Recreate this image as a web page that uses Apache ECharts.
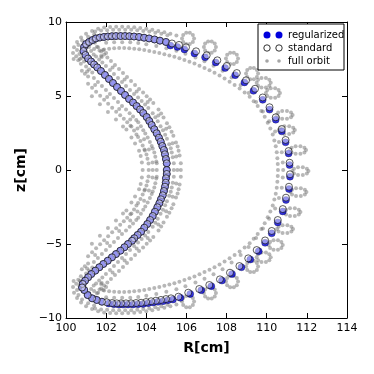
<!DOCTYPE html>
<html>
<head>
<meta charset="utf-8">
<script src="https://cdn.jsdelivr.net/npm/echarts@6/dist/echarts.min.js"></script>
<style>
html, body { margin: 0; padding: 0; background: #fff; }
#chart { width: 374px; height: 374px; }
</style>
</head>
<body>
<div id="chart"></div>
<script>
// axis ticks
var rTicks = [100, 102, 104, 106, 108, 110, 112, 114];
var zTicks = [-10, -5, 0, 5, 10];

// guiding centre, "standard" scheme: outer leg (top -> right -> bottom)
var stdOuter = [
	[100.90, 8.31], [101.00, 8.51], [101.15, 8.65], [101.32, 8.78], [101.49, 8.89], [101.69, 8.95], [101.89, 8.99], [102.09, 9.02],
	[102.29, 9.04], [102.49, 9.05], [102.72, 9.05], [102.94, 9.05], [103.16, 9.04], [103.39, 9.02], [103.64, 8.99], [103.89, 8.94],
	[104.14, 8.89], [104.41, 8.82], [104.68, 8.74], [104.98, 8.65], [105.28, 8.55], [105.63, 8.45], [105.98, 8.29], [106.48, 8.02],
	[107.01, 7.75], [107.54, 7.41], [108.01, 7.03], [108.51, 6.55], [108.97, 6.06], [109.42, 5.49], [109.80, 4.90], [110.14, 4.24],
	[110.45, 3.56], [110.75, 2.77], [110.94, 2.03], [111.09, 1.28], [111.14, 0.49], [111.16, -0.29], [111.11, -1.13], [110.96, -1.87],
	[110.80, -2.64], [110.55, -3.38], [110.25, -4.12], [109.92, -4.76], [109.50, -5.41], [109.08, -5.97], [108.64, -6.49], [108.17, -6.94],
	[107.67, -7.39], [107.14, -7.77], [106.64, -8.04], [106.09, -8.29], [105.60, -8.56], [105.23, -8.67], [104.98, -8.72], [104.73, -8.78],
	[104.48, -8.83], [104.24, -8.87], [103.99, -8.92], [103.74, -8.97], [103.49, -8.99], [103.24, -9.01], [102.99, -9.01], [102.74, -9.01],
	[102.53, -9.01], [102.29, -8.99], [102.03, -8.94], [101.79, -8.90], [101.53, -8.78], [101.30, -8.67], [101.08, -8.45], [100.91, -8.11]
];
// inner leg (top tip -> bottom tip)
var stdInner = [
	[100.87, 8.04], [100.97, 7.77], [101.10, 7.53], [101.25, 7.33], [101.40, 7.13], [101.56, 6.93], [101.74, 6.69], [101.94, 6.42],
	[102.14, 6.15], [102.34, 5.88], [102.54, 5.61], [102.74, 5.34], [102.94, 5.07], [103.14, 4.80], [103.34, 4.56], [103.52, 4.32],
	[103.69, 4.09], [103.85, 3.85], [104.02, 3.58], [104.15, 3.31], [104.27, 3.04], [104.40, 2.75], [104.52, 2.48], [104.63, 2.18],
	[104.72, 1.91], [104.80, 1.62], [104.88, 1.35], [104.93, 1.06], [104.98, 0.74], [105.02, 0.45], [105.02, 0.00], [105.02, -0.27],
	[104.98, -0.56], [104.97, -0.86], [104.93, -1.13], [104.88, -1.42], [104.82, -1.71], [104.73, -1.98], [104.65, -2.25], [104.55, -2.52],
	[104.43, -2.82], [104.32, -3.11], [104.19, -3.38], [104.05, -3.65], [103.90, -3.90], [103.74, -4.17], [103.57, -4.39], [103.40, -4.61],
	[103.29, -4.78], [103.09, -5.00], [102.91, -5.22], [102.71, -5.45], [102.49, -5.68], [102.29, -5.90], [102.08, -6.13], [101.86, -6.35],
	[101.66, -6.57], [101.46, -6.80], [101.26, -7.03], [101.10, -7.25], [100.95, -7.48], [100.83, -7.70], [100.80, -7.94]
];

// guiding centre, "regularized" scheme (shifted a little on the outer leg)
var regOuter = [
	[100.90, 8.31], [101.00, 8.51], [101.15, 8.65], [101.32, 8.78], [101.49, 8.89], [101.69, 8.95], [101.89, 8.99], [102.09, 9.02],
	[102.29, 9.04], [102.49, 9.05], [102.72, 9.05], [102.94, 9.05], [103.16, 9.04], [103.39, 9.02], [103.64, 8.99], [103.89, 8.94],
	[104.14, 8.89], [104.41, 8.82], [104.68, 8.74], [104.98, 8.65], [105.20, 8.41], [105.55, 8.31], [105.90, 8.15], [106.40, 7.88],
	[106.93, 7.61], [107.46, 7.27], [107.93, 6.89], [108.43, 6.41], [108.89, 5.92], [109.34, 5.35], [109.80, 4.74], [110.14, 4.08],
	[110.45, 3.40], [110.75, 2.61], [110.94, 1.87], [111.09, 1.12], [111.14, 0.33], [111.16, -0.45], [111.11, -1.29], [110.96, -2.03],
	[110.80, -2.80], [110.55, -3.54], [110.25, -4.28], [109.92, -4.92], [109.60, -5.49], [109.18, -6.05], [108.74, -6.57], [108.27, -7.02],
	[107.77, -7.47], [107.24, -7.85], [106.74, -8.12], [106.19, -8.37], [105.70, -8.64], [105.33, -8.75], [105.08, -8.80], [104.83, -8.86],
	[104.58, -8.91], [104.34, -8.95], [104.09, -9.00], [103.84, -9.05], [103.59, -9.07], [103.34, -9.09], [103.09, -9.09], [102.84, -9.09],
	[102.63, -9.09], [102.39, -9.07], [102.13, -9.02], [101.79, -8.90], [101.53, -8.78], [101.30, -8.67], [101.08, -8.45], [100.91, -8.11]
];
// on the inner leg both schemes sit on the same points
var regInner = stdInner;

// full orbit: outer rim of the banana tips
var orbitEdgeTop = [
	[100.38, 7.5], [100.35, 7.9], [100.40, 8.3], [100.55, 8.65], [100.75, 8.95], [101.0, 9.2], [101.3, 9.4], [101.6, 9.55],
	[101.9, 9.62], [102.2, 9.66], [102.5, 9.68], [102.8, 9.68], [103.1, 9.67], [103.4, 9.64], [103.7, 9.6], [104.0, 9.55],
	[104.3, 9.48], [104.6, 9.4], [104.9, 9.31], [105.2, 9.2], [105.5, 9.08],
	[101.45, 9.35], [101.75, 9.42], [102.05, 9.45], [102.35, 9.47], [102.65, 9.48], [102.95, 9.48], [103.25, 9.47], [103.55, 9.44],
	[103.85, 9.4], [104.15, 9.35], [104.45, 9.28], [104.75, 9.2], [105.05, 9.1]
];
var orbitEdgeBottom = [
	[100.38, -7.5], [100.35, -7.9], [100.40, -8.3], [100.55, -8.65], [100.75, -8.95], [101.0, -9.2], [101.3, -9.4], [101.6, -9.55],
	[101.9, -9.62], [102.2, -9.66], [102.5, -9.68], [102.8, -9.68], [103.1, -9.67], [103.4, -9.64], [103.7, -9.6], [104.0, -9.55],
	[104.3, -9.48], [104.6, -9.4], [104.9, -9.31], [105.2, -9.2], [105.5, -9.08],
	[101.45, -9.35], [101.75, -9.42], [102.05, -9.45], [102.35, -9.47], [102.65, -9.48], [102.95, -9.48], [103.25, -9.47], [103.55, -9.44],
	[103.85, -9.4], [104.15, -9.35], [104.45, -9.28], [104.75, -9.2], [105.05, -9.1]
];
var orbitTipTop = [
	[100.55, 8.1], [100.62, 8.45], [100.8, 8.75], [101.1, 9.0], [101.4, 9.15], [101.6, 8.3], [101.85, 8.1], [101.75, 7.7], [102.0, 7.9]
];
var orbitTipBottom = [
	[100.55, -8.1], [100.62, -8.45], [100.8, -8.75], [101.1, -9.0], [101.4, -9.15], [101.6, -8.3], [101.85, -8.1], [101.75, -7.7], [102.0, -7.9]
];
// inner edge of the outer band
var orbitInnerTrack = [
	[101.9, 8.15], [102.15, 8.2], [102.4, 8.22], [102.65, 8.24], [102.9, 8.24], [103.15, 8.23], [103.4, 8.2], [103.65, 8.16],
	[103.9, 8.1], [104.15, 8.04], [104.4, 7.98], [104.65, 7.9], [104.9, 7.82], [105.15, 7.74], [105.4, 7.65], [105.65, 7.55],
	[105.9, 7.44], [106.15, 7.32], [106.4, 7.19], [106.65, 7.05], [106.9, 6.9], [107.15, 6.74], [107.4, 6.57], [107.65, 6.38],
	[107.9, 6.18], [108.15, 5.97], [108.4, 5.74], [108.65, 5.5], [108.9, 5.23], [109.15, 4.95], [109.35, 4.65], [109.55, 4.33],
	[109.73, 3.98], [109.9, 3.6], [110.05, 3.2], [110.18, 2.8], [110.3, 2.4], [110.38, 2.0], [110.45, 1.6], [110.5, 1.2],
	[110.53, 0.8], [110.55, 0.4], [110.56, 0.0], [110.55, -0.4], [110.53, -0.8], [110.5, -1.2], [110.45, -1.6], [110.38, -2.0],
	[110.3, -2.4], [110.18, -2.8], [110.05, -3.2], [109.9, -3.6], [109.73, -3.98], [109.55, -4.33], [109.35, -4.65], [109.15, -4.95],
	[108.9, -5.23], [108.65, -5.5], [108.4, -5.74], [108.15, -5.97], [107.9, -6.18], [107.65, -6.38], [107.4, -6.57], [107.15, -6.74],
	[106.9, -6.9], [106.65, -7.05], [106.4, -7.19], [106.15, -7.32], [105.9, -7.44], [105.65, -7.55], [105.4, -7.65], [105.15, -7.74],
	[104.9, -7.82], [104.65, -7.9], [104.4, -7.98], [104.15, -8.04], [103.9, -8.1], [103.65, -8.16], [103.4, -8.2], [103.15, -8.23],
	[102.9, -8.24], [102.65, -8.24], [102.4, -8.22], [102.15, -8.2], [101.9, -8.15]
];
// dots just inside the outer guiding-centre leg
var orbitMidTrack = [
	[102.0, 8.6], [102.4, 8.63], [102.8, 8.64], [103.2, 8.63], [103.6, 8.58], [104.0, 8.5], [104.5, 8.38], [105.0, 8.22],
	[105.5, 8.05], [105.95, 7.85], [106.45, 7.6], [106.9, 7.35], [107.35, 7.05], [107.8, 6.7], [108.25, 6.25], [108.7, 5.75],
	[109.1, 5.2], [109.47, 4.6], [109.81, 3.95], [110.12, 3.3], [110.42, 2.6], [110.61, 1.9], [110.75, 1.2], [110.8, 0.5],
	[110.82, 0.0], [110.8, -0.5], [110.75, -1.2], [110.61, -1.9], [110.42, -2.6], [110.12, -3.3], [109.81, -3.95], [109.47, -4.6],
	[109.1, -5.2], [108.7, -5.75], [108.25, -6.25], [107.8, -6.7], [107.35, -7.05], [106.9, -7.35], [106.45, -7.6], [105.95, -7.85],
	[105.5, -8.05], [105.0, -8.22], [104.5, -8.38], [104.0, -8.5], [103.6, -8.58], [103.2, -8.63], [102.8, -8.64], [102.4, -8.63], [102.0, -8.6]
];
// dotted bands on both sides of the inner leg
var legRightNear = [
	[101.15, 8.31], [101.25, 8.04], [101.38, 7.80], [101.50, 7.67], [101.65, 7.47], [101.81, 7.27], [101.99, 7.03], [102.19, 6.76],
	[102.39, 6.49], [102.59, 6.22], [102.79, 5.95], [102.99, 5.68], [103.19, 5.41], [103.39, 5.14], [103.59, 4.90], [103.77, 4.66],
	[103.94, 4.43], [104.10, 4.19], [104.32, 3.83], [104.45, 3.56], [104.57, 3.29], [104.71, 2.95], [104.83, 2.68], [104.94, 2.38],
	[105.03, 2.11], [105.14, 1.74], [105.22, 1.47], [105.27, 1.18], [105.32, 0.86], [105.37, 0.45], [105.37, 0.00], [105.37, -0.45],
	[105.32, -0.86], [105.27, -1.18], [105.22, -1.47], [105.14, -1.74], [105.03, -2.11], [104.94, -2.38], [104.83, -2.68], [104.71, -2.95],
	[104.57, -3.29], [104.45, -3.56], [104.32, -3.83], [104.10, -4.19], [103.94, -4.43], [103.77, -4.66], [103.59, -4.90], [103.39, -5.14],
	[103.19, -5.41], [102.99, -5.68], [102.79, -5.95], [102.59, -6.22], [102.39, -6.49], [102.19, -6.76], [101.99, -7.03], [101.81, -7.27],
	[101.65, -7.47], [101.50, -7.67], [101.38, -7.80], [101.25, -8.04], [101.15, -8.31]
];
var legRightFar = [
	[101.44, 8.59], [101.54, 8.32], [101.67, 8.08], [101.75, 8.00], [101.90, 7.80], [102.06, 7.60], [102.24, 7.36], [102.44, 7.09],
	[102.64, 6.82], [102.84, 6.55], [103.04, 6.28], [103.24, 6.01], [103.44, 5.74], [103.64, 5.47], [103.84, 5.23], [104.02, 4.99],
	[104.19, 4.76], [104.35, 4.52], [104.61, 4.08], [104.74, 3.81], [104.86, 3.54], [105.03, 3.16], [105.15, 2.89], [105.26, 2.59],
	[105.35, 2.32], [105.48, 1.86], [105.56, 1.59], [105.61, 1.30], [105.66, 0.98], [105.72, 0.45], [105.72, 0.00], [105.72, -0.45],
	[105.66, -0.98], [105.61, -1.30], [105.56, -1.59], [105.48, -1.86], [105.35, -2.32], [105.26, -2.59], [105.15, -2.89], [105.03, -3.16],
	[104.86, -3.54], [104.74, -3.81], [104.61, -4.08], [104.35, -4.52], [104.19, -4.76], [104.02, -4.99], [103.84, -5.23], [103.64, -5.47],
	[103.44, -5.74], [103.24, -6.01], [103.04, -6.28], [102.84, -6.55], [102.64, -6.82], [102.44, -7.09], [102.24, -7.36], [102.06, -7.60],
	[101.90, -7.80], [101.75, -8.00], [101.67, -8.08], [101.54, -8.32], [101.44, -8.59]
];
var legRightRungs = [
	[101.40, 8.18], [101.78, 7.64], [102.32, 6.93], [102.92, 6.12], [103.52, 5.31], [104.07, 4.60], [104.60, 3.69], [104.99, 2.79],
	[105.31, 1.80], [105.49, 0.92], [105.55, 0.00], [105.49, -0.92], [105.31, -1.80], [104.99, -2.79], [104.60, -3.69], [104.07, -4.60],
	[103.52, -5.31], [102.92, -6.12], [102.32, -6.93], [101.78, -7.64], [101.40, -8.18]
];
var legLeftNear = [
	[100.67, 7.84], [100.77, 7.57], [100.90, 7.33], [101.00, 6.99], [101.15, 6.79], [101.31, 6.59], [101.39, 6.21], [101.59, 5.94],
	[101.79, 5.67], [101.99, 5.40], [102.19, 5.13], [102.39, 4.86], [102.59, 4.59], [102.79, 4.32], [102.99, 4.08], [103.17, 3.84],
	[103.34, 3.61], [103.50, 3.37], [103.60, 3.22], [103.73, 2.95], [103.85, 2.68], [103.95, 2.46], [104.07, 2.19], [104.18, 1.89],
	[104.27, 1.62], [104.32, 1.45], [104.40, 1.18], [104.45, 0.89], [104.50, 0.57], [104.52, 0.45], [104.52, 0.00], [104.52, -0.45],
	[104.50, -0.57], [104.45, -0.89], [104.40, -1.18], [104.32, -1.45], [104.27, -1.62], [104.18, -1.89], [104.07, -2.19], [103.95, -2.46],
	[103.85, -2.68], [103.73, -2.95], [103.60, -3.22], [103.50, -3.37], [103.34, -3.61], [103.17, -3.84], [102.99, -4.08], [102.79, -4.32],
	[102.59, -4.59], [102.39, -4.86], [102.19, -5.13], [101.99, -5.40], [101.79, -5.67], [101.59, -5.94], [101.39, -6.21], [101.31, -6.59],
	[101.15, -6.79], [101.00, -6.99], [100.90, -7.33], [100.77, -7.57], [100.67, -7.84]
];
var legLeftFar = [
	[100.51, 7.69], [100.61, 7.42], [100.74, 7.18], [100.79, 6.71], [100.94, 6.51], [101.10, 6.31], [101.10, 5.83], [101.30, 5.56],
	[101.50, 5.29], [101.70, 5.02], [101.90, 4.75], [102.10, 4.48], [102.30, 4.21], [102.50, 3.94], [102.70, 3.70], [102.88, 3.46],
	[103.05, 3.23], [103.21, 2.99], [103.26, 2.94], [103.39, 2.67], [103.51, 2.40], [103.59, 2.23], [103.71, 1.96], [103.82, 1.66],
	[103.91, 1.39], [103.93, 1.32], [104.01, 1.05], [104.06, 0.76], [104.11, 0.44], [104.12, 0.00], [104.11, -0.44], [104.06, -0.76],
	[104.01, -1.05], [103.93, -1.32], [103.91, -1.39], [103.82, -1.66], [103.71, -1.96], [103.59, -2.23], [103.51, -2.40], [103.39, -2.67],
	[103.26, -2.94], [103.21, -2.99], [103.05, -3.23], [102.88, -3.46], [102.70, -3.70], [102.50, -3.94], [102.30, -4.21], [102.10, -4.48],
	[101.90, -4.75], [101.70, -5.02], [101.50, -5.29], [101.30, -5.56], [101.10, -5.83], [101.10, -6.31], [100.94, -6.51], [100.79, -6.71],
	[100.74, -7.18], [100.61, -7.42], [100.51, -7.69]
];
var legLeftRungs = [
	[100.69, 7.50], [101.05, 6.65], [101.45, 5.75], [102.05, 4.94], [102.65, 4.13], [103.20, 3.42], [103.56, 2.81], [103.89, 2.08],
	[104.13, 1.39], [104.31, 0.51], [104.32, 0.00], [104.31, -0.51], [104.13, -1.39], [103.89, -2.08], [103.56, -2.81], [103.20, -3.42],
	[102.65, -4.13], [102.05, -4.94], [101.45, -5.75], [101.05, -6.65], [100.69, -7.50]
];
var legLeftOuter = [
	[101.29, 4.98], [101.69, 4.45], [102.09, 3.92], [102.49, 3.41], [102.84, 2.94], [103.01, 2.73], [103.26, 2.19], [103.44, 1.79],
	[103.64, 1.30], [103.72, 0.95], [103.78, 0.50], [103.82, 0.00], [103.78, -0.50], [103.72, -0.95], [103.64, -1.30], [103.44, -1.79],
	[103.26, -2.19], [103.01, -2.73], [102.84, -2.94], [102.49, -3.41], [102.09, -3.92], [101.69, -4.45], [101.29, -4.98]
];
// gyration loops on the outer leg
var loopsTop = [
	[106.38, 8.89], [106.32, 9.13], [106.17, 9.27], [105.99, 9.27], [105.84, 9.13], [105.78, 8.89], [105.84, 8.65], [105.99, 8.51], [106.17, 8.51], [106.32, 8.65],
	[107.47, 8.31], [107.41, 8.55], [107.26, 8.69], [107.08, 8.69], [106.93, 8.55], [106.87, 8.31], [106.93, 8.07], [107.08, 7.93], [107.26, 7.93], [107.41, 8.07],
	[108.57, 7.54], [108.51, 7.78], [108.36, 7.92], [108.18, 7.92], [108.03, 7.78], [107.97, 7.54], [108.03, 7.30], [108.18, 7.16], [108.36, 7.16], [108.51, 7.30],
	[109.57, 6.52], [109.51, 6.76], [109.36, 6.90], [109.18, 6.90], [109.03, 6.76], [108.97, 6.52], [109.03, 6.28], [109.18, 6.14], [109.36, 6.14], [109.51, 6.28],
	[110.20, 5.90], [110.13, 6.10], [109.96, 6.22], [109.74, 6.22], [109.57, 6.10], [109.50, 5.90], [109.57, 5.70], [109.74, 5.58], [109.96, 5.58], [110.13, 5.70],
	[110.66, 5.20], [110.59, 5.40], [110.42, 5.52], [110.20, 5.52], [110.03, 5.40], [109.96, 5.20], [110.03, 5.00], [110.20, 4.88], [110.42, 4.88], [110.59, 5.00]
];
var loopsRight = [
	[111.29, 3.72], [111.21, 3.88], [111.01, 3.98], [110.77, 3.98], [110.57, 3.88], [110.49, 3.72], [110.57, 3.56], [110.77, 3.46], [111.01, 3.46], [111.21, 3.56],
	[111.40, 2.70], [111.32, 2.86], [111.12, 2.96], [110.88, 2.96], [110.68, 2.86], [110.60, 2.70], [110.68, 2.54], [110.88, 2.44], [111.12, 2.44], [111.32, 2.54],
	[111.96, 1.35], [111.88, 1.51], [111.68, 1.61], [111.44, 1.61], [111.24, 1.51], [111.16, 1.35], [111.24, 1.19], [111.44, 1.09], [111.68, 1.09], [111.88, 1.19],
	[112.08, -0.07], [112.00, 0.09], [111.80, 0.19], [111.56, 0.19], [111.36, 0.09], [111.28, -0.07], [111.36, -0.23], [111.56, -0.33], [111.80, -0.33], [112.00, -0.23],
	[111.98, -1.49], [111.90, -1.33], [111.70, -1.23], [111.46, -1.23], [111.26, -1.33], [111.18, -1.49], [111.26, -1.65], [111.46, -1.75], [111.70, -1.75], [111.90, -1.65],
	[111.68, -2.84], [111.60, -2.68], [111.40, -2.58], [111.16, -2.58], [110.96, -2.68], [110.88, -2.84], [110.96, -3.00], [111.16, -3.10], [111.40, -3.10], [111.60, -3.00],
	[111.31, -3.99], [111.23, -3.83], [111.03, -3.73], [110.79, -3.73], [110.59, -3.83], [110.51, -3.99], [110.59, -4.15], [110.79, -4.25], [111.03, -4.25], [111.23, -4.15],
	[110.80, -5.07], [110.73, -4.87], [110.56, -4.75], [110.34, -4.75], [110.17, -4.87], [110.10, -5.07], [110.17, -5.27], [110.34, -5.39], [110.56, -5.39], [110.73, -5.27]
];
var loopsBottom = [
	[110.20, -5.90], [110.13, -5.70], [109.96, -5.58], [109.74, -5.58], [109.57, -5.70], [109.50, -5.90], [109.57, -6.10], [109.74, -6.22], [109.96, -6.22], [110.13, -6.10],
	[109.57, -6.52], [109.51, -6.28], [109.36, -6.14], [109.18, -6.14], [109.03, -6.28], [108.97, -6.52], [109.03, -6.76], [109.18, -6.90], [109.36, -6.90], [109.51, -6.76],
	[108.57, -7.54], [108.51, -7.30], [108.36, -7.16], [108.18, -7.16], [108.03, -7.30], [107.97, -7.54], [108.03, -7.78], [108.18, -7.92], [108.36, -7.92], [108.51, -7.78],
	[107.47, -8.31], [107.41, -8.07], [107.26, -7.93], [107.08, -7.93], [106.93, -8.07], [106.87, -8.31], [106.93, -8.55], [107.08, -8.69], [107.26, -8.69], [107.41, -8.55],
	[106.38, -8.89], [106.32, -8.65], [106.17, -8.51], [105.99, -8.51], [105.84, -8.65], [105.78, -8.89], [105.84, -9.13], [105.99, -9.27], [106.17, -9.27], [106.32, -9.13]
];

var fullOrbit = [].concat(orbitEdgeTop, orbitEdgeBottom, orbitTipTop, orbitTipBottom, orbitInnerTrack, orbitMidTrack,
	legRightNear, legRightFar, legRightRungs, legLeftNear, legLeftFar, legLeftRungs, legLeftOuter,
	loopsTop, loopsRight, loopsBottom);

var font = 'DejaVu Sans';
var black = '#000';
var blue = '#0000dd';
var grey = 'rgba(105,105,105,0.6)';

function withMinus(v) {
	return String(v).replace('-', '\u2212');
}

var chart = echarts.init(document.getElementById('chart'));

// plain frame axis on the top / right side, ticks only
function sideAxis(pos, lo, hi, step) {
	return {
		type: 'value',
		position: pos,
		min: lo,
		max: hi,
		interval: step,
		axisLine: { show: true, onZero: false, lineStyle: { color: black, width: 1 } },
		axisTick: { show: true, inside: true, length: 5, lineStyle: { color: black, width: 1 } },
		axisLabel: { show: false },
		splitLine: { show: false }
	};
}

chart.setOption({
	animation: false,
	grid: { left: 66, right: 27, top: 22, bottom: 56 },
	xAxis: [{
		type: 'value',
		position: 'bottom',
		min: rTicks[0],
		max: rTicks[rTicks.length - 1],
		interval: rTicks[1] - rTicks[0],
		name: 'R[cm]',
		nameLocation: 'middle',
		nameGap: 23,
		nameTextStyle: { fontFamily: font, fontWeight: 'bold', fontSize: 14, color: black },
		axisLine: { show: true, onZero: false, lineStyle: { color: black, width: 1 } },
		axisTick: { show: true, inside: true, length: 5, lineStyle: { color: black, width: 1 } },
		axisLabel: { color: black, fontFamily: font, fontSize: 11, margin: 5, formatter: withMinus },
		splitLine: { show: false }
	}, sideAxis('top', rTicks[0], rTicks[rTicks.length - 1], rTicks[1] - rTicks[0])],
	yAxis: [{
		type: 'value',
		position: 'left',
		min: zTicks[0],
		max: zTicks[zTicks.length - 1],
		interval: zTicks[1] - zTicks[0],
		name: 'z[cm]',
		nameLocation: 'middle',
		nameGap: 34,
		nameTextStyle: { fontFamily: font, fontWeight: 'bold', fontSize: 14, color: black },
		axisLine: { show: true, onZero: false, lineStyle: { color: black, width: 1 } },
		axisTick: { show: true, inside: true, length: 5, lineStyle: { color: black, width: 1 } },
		axisLabel: { color: black, fontFamily: font, fontSize: 11, margin: 4, formatter: withMinus },
		splitLine: { show: false }
	}, sideAxis('right', zTicks[0], zTicks[zTicks.length - 1], zTicks[1] - zTicks[0])],
	graphic: [
		{ type: 'rect', z: 100, shape: { x: 258, y: 24, width: 86, height: 46 }, style: { fill: '#fff', stroke: black, lineWidth: 1 } },
		{ type: 'circle', z: 101, shape: { cx: 267, cy: 35, r: 3.5 }, style: { fill: blue } },
		{ type: 'circle', z: 101, shape: { cx: 279, cy: 35, r: 3.5 }, style: { fill: blue } },
		{ type: 'circle', z: 101, shape: { cx: 267, cy: 48, r: 3.2 }, style: { fill: '#fff', stroke: black, lineWidth: 0.8 } },
		{ type: 'circle', z: 101, shape: { cx: 279, cy: 48, r: 3.2 }, style: { fill: '#fff', stroke: black, lineWidth: 0.8 } },
		{ type: 'circle', z: 101, shape: { cx: 267, cy: 61, r: 1.8 }, style: { fill: grey } },
		{ type: 'circle', z: 101, shape: { cx: 279, cy: 61, r: 1.8 }, style: { fill: grey } },
		{ type: 'text', z: 101, x: 288, y: 35, style: { text: 'regularized', font: '10px "DejaVu Sans"', fill: black, verticalAlign: 'middle' } },
		{ type: 'text', z: 101, x: 288, y: 48, style: { text: 'standard', font: '10px "DejaVu Sans"', fill: black, verticalAlign: 'middle' } },
		{ type: 'text', z: 101, x: 288, y: 61, style: { text: 'full orbit', font: '10px "DejaVu Sans"', fill: black, verticalAlign: 'middle' } }
	],
	series: [{
		name: 'full orbit',
		type: 'scatter',
		silent: true,
		symbol: 'circle',
		symbolSize: 4,
		itemStyle: { color: grey },
		data: fullOrbit
	}, {
		name: 'regularized',
		type: 'scatter',
		silent: true,
		symbolSize: 7,
		itemStyle: { color: blue, borderColor: 'rgba(0,0,40,0.7)', borderWidth: 0.6 },
		data: regOuter.concat(regInner)
	}, {
		name: 'standard',
		type: 'scatter',
		silent: true,
		symbolSize: 7,
		itemStyle: { color: 'rgba(255,255,255,0.6)', borderColor: black, borderWidth: 0.8 },
		data: stdOuter.concat(stdInner)
	}]
});
</script>
</body>
</html>
